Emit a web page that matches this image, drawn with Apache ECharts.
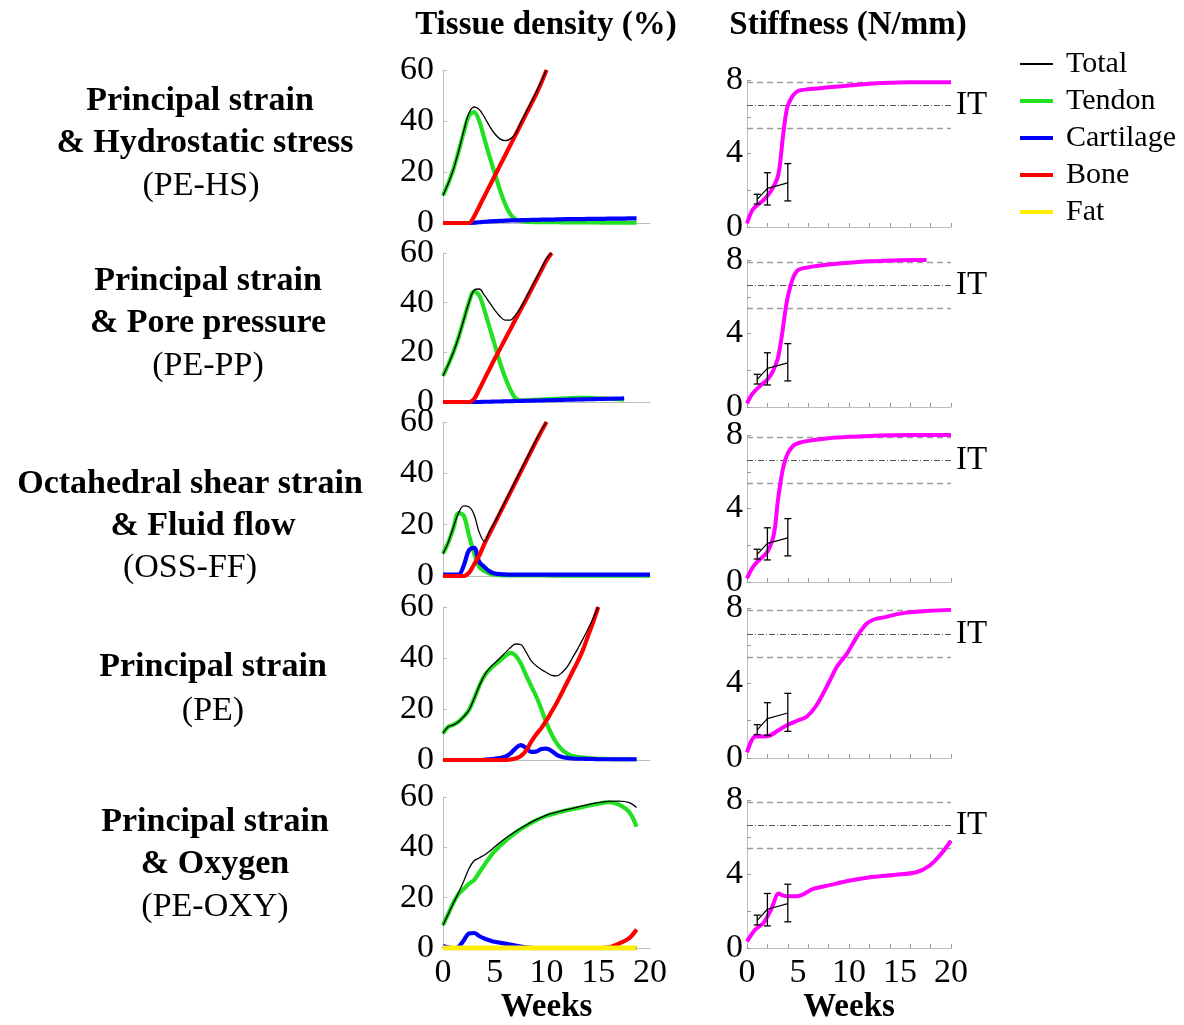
<!DOCTYPE html>
<html>
<head>
<meta charset="utf-8">
<script src="https://cdn.jsdelivr.net/npm/echarts@6/dist/echarts.min.js"></script>
<style>
  html, body { margin: 0; padding: 0; background: #fff; }
  #chart { width: 1184px; height: 1025px; }
</style>
</head>
<body>
<div id="chart"></div>
<script>
// ---- tissue density (%) per model ----
const hsWeeks = [0,0.5,1,1.5,2,2.5,3,3.5,4,4.5,5,5.5,6,6.5,7,7.5,8,8.5,9,9.5,10,11,12,13,14,15,16,17,18,18.7];
const hsTotal = [10.8,15.5,21,28,36,43,45.5,44.5,41.5,38,35,33,32.3,33,35,39.3,43.3,47.3,51.3,55.6,60,null,null,null,null,null,null,null,null,null];
const hsTendon = [10.8,15.5,21,28,35.5,42,43.5,40,33,26,19.5,13,7.5,3.5,1.5,0.8,0.5,0.4,0.3,0.3,0.3,0.3,0.2,0.2,0.2,0.2,0.1,0.1,0.1,0.1];
const hsCartilage = [0,0,0,0,0,0,0.1,0.3,0.5,0.6,0.7,0.8,0.9,1,1,1.1,1.1,1.2,1.2,1.3,1.3,1.4,1.5,1.5,1.6,1.6,1.7,1.7,1.8,1.8];
const hsBone = [0,0,0,0,0,0,2.5,6.5,10.5,14.5,18.5,22.5,26.5,30.5,34.5,38.5,42.5,46.5,50.5,55,60,null,null,null,null,null,null,null,null,null];

const ppWeeks = [0,0.5,1,1.5,2,2.5,3,3.5,4,4.5,5,5.5,6,6.5,7,7.5,8,8.5,9,9.5,10,10.5,11,12,13,14,15,16,17,17.5];
const ppTotal = [10.5,15,20,26,33,40,45,45.5,43,40,37,34.5,33,33,35,38,41.8,45.8,49.8,53.8,57.8,60,null,null,null,null,null,null,null,null];
const ppTendon = [10.5,15,20,26,33,40,44.5,43,37,30,23,16,10,5,1.5,0.7,0.7,0.8,0.9,1,1.1,1.2,1.3,1.5,1.7,1.7,1.5,1.3,1.1,1];
const ppCartilage = [0,0,0,0,0,0,0,0,0.1,0.1,0.2,0.2,0.3,0.3,0.4,0.4,0.5,0.5,0.6,0.6,0.7,0.7,0.8,0.9,1,1.1,1.2,1.3,1.4,1.5];
const ppBone = [0,0,0,0,0,0,1.2,5,9.2,13.3,17.4,21.3,25.3,29.2,33.2,37.1,41,45,49,53,57,60,null,null,null,null,null,null,null,null];

const ffWeeks = [0,0.5,1,1.5,2,2.5,3,3.5,4,4.5,5,5.5,6,6.5,7,7.5,8,8.5,9,9.5,10,11,12,13,14,15,16,17,18,19,20];
const ffTotal = [8.7,13,19,24.5,27.3,27,24,17,13.5,17.5,21,25,29,33,37,41,45,49,53,56.8,60,null,null,null,null,null,null,null,null,null,null];
const ffTendon = [8.7,13,18.5,24.5,23.5,16,9,3.5,2,1,0.5,0.3,0.2,0.2,0.2,0.2,0.2,0.2,0.2,0.2,0.2,0.1,0.1,0.1,0.1,0.1,0.1,0.1,0.1,0.1,0.1];
const ffCartilage = [0.5,0.5,0.5,0.5,4,10,11,5.5,3.5,1.8,1,0.7,0.6,0.5,0.5,0.5,0.5,0.5,0.5,0.5,0.5,0.5,0.5,0.5,0.5,0.5,0.5,0.5,0.5,0.5,0.5];
const ffBone = [0,0,0,0,0,1.2,4.5,8,12.5,16.5,20.5,24.5,28.5,32.5,36.5,40.5,44.5,48.5,52.5,56.3,60,null,null,null,null,null,null,null,null,null,null];

const peWeeks = [0,0.5,1,1.5,2,2.5,3,3.5,4,4.5,5,5.5,6,6.5,7,7.5,8,8.5,9,9.5,10,10.5,11,11.5,12,12.5,13,13.5,14,14.5,15,16,17,18,18.7];
const peTotal = [10.4,13,13.8,15,17,19.5,24,29,33.2,36,38,40,42,44,45.5,45.3,42.5,39,37,35.5,34.3,33.2,33,34.3,36.5,40,43.5,47.3,51.3,55.5,60,null,null,null,null];
const peTendon = [10.4,13,13.8,15,17,19.5,24,29,33,35.5,37.3,39,40.7,42,41,38,33.5,29.2,25,20,14.5,10,6.5,4,2.5,1.6,1.2,0.9,0.7,0.6,0.5,0.4,0.3,0.3,0.3];
const peCartilage = [0,0,0,0,0,0,0,0,0.1,0.3,0.5,0.8,1.3,2.5,4.5,5.8,4.8,3.2,3.3,4.3,4.5,3.5,2,1.2,0.8,0.6,0.5,0.5,0.4,0.4,0.3,0.3,0.3,0.3,0.3];
const peBone = [0,0,0,0,0,0,0,0,0,0,0,0,0,0.2,0.6,1.5,3.5,7,10,12.5,15.5,19,22.5,26.5,30.5,34.5,38.5,43,48.5,54,60,null,null,null,null];

const oxWeeks = [0,0.5,1,1.5,2,2.5,3,3.5,4,4.5,5,6,7,8,9,10,11,12,13,14,15,16,17,18,18.7];
const oxTotal = [9.1,13.5,17.8,22,26.5,31.5,34.7,35.8,37,38.5,40.2,43.5,46.3,48.8,51,52.8,54,55,56,57,57.8,58.3,58.4,57.8,55.8];
const oxTendon = [9.1,13.5,18,21.5,23.5,25.5,27,30,33,36,38.5,42.5,45.8,48.5,50.7,52.5,53.7,54.8,55.6,56.5,57.3,58,57,54,48.2];
const oxCartilage = [0.8,0.3,0,0.5,3,5.8,6,4.8,3.8,3.1,2.5,1.8,1,0.3,0,0,0,0,0,0,0,0,0,0,0];
const oxBone = [0,0,0,0,0,0,0,0,0,0,0,0,0,0,0,0,0,0,0,0,0,0.3,1.8,4,7.4];
const oxFat = [0,0,0,0,0,0,0,0,0,0,0,0,0,0,0,0,0,0,0,0,0,0,0,0,0];

// ---- stiffness (N/mm) per model ----
const hsStiffWeeks = [0,0.5,1,1.5,2,2.5,3,3.25,3.5,3.75,4,4.5,5,6,8,10,12,14,16,18,20];
const hsStiff = [0.2,0.9,1.2,1.4,1.7,2.1,2.7,3.5,4.8,5.9,6.6,7.15,7.4,7.5,7.6,7.7,7.8,7.85,7.88,7.88,7.88];
const ppStiffWeeks = [0,0.5,1,1.5,2,2.5,3,3.25,3.5,3.75,4,4.5,5,6,8,10,12,14,16,17.6];
const ppStiff = [0.2,0.7,1.0,1.25,1.5,1.9,2.6,3.3,4.2,5.2,6.0,7.0,7.45,7.6,7.75,7.85,7.93,7.97,8.0,8.0];
const ffStiffWeeks = [0,0.5,1,1.5,2,2.5,2.75,3,3.25,3.5,3.75,4,4.5,5,6,8,10,12,14,16,18,20];
const ffStiff = [0.2,0.75,1.1,1.35,1.65,2.3,3.0,4.3,5.3,6.1,6.65,7.0,7.4,7.55,7.68,7.82,7.9,7.95,7.98,8.0,8.0,8.0];
const peStiffWeeks = [0,0.8,1.5,2.25,3,4,5,5.85,6.8,8,8.8,9.8,10.75,11.7,12.5,13.4,15,16,18,20];
const peStiff = [0.3,1.15,1.15,1.2,1.45,1.77,2.0,2.2,2.8,4.0,4.85,5.57,6.45,7.15,7.4,7.5,7.7,7.77,7.85,7.9];
const oxStiffWeeks = [0,0.8,1.6,2.4,3.1,3.5,3.9,4.9,6.5,8.1,10.1,12.4,14.6,16.6,17.9,18.9,20];
const oxStiff = [0.36,1.0,1.35,2.14,2.95,2.85,2.8,2.8,3.2,3.4,3.65,3.85,3.96,4.1,4.46,5.0,5.8];

// experimental stiffness (mean with range)
const expWeeks = [1, 2, 4];
const expMean = [1.5, 2.1, 2.4];
const expLow = [1.25, 1.2, 1.42];
const expHigh = [1.78, 2.95, 3.45];

// intact tendon stiffness band
const itUpper = 7.88;
const itMean = 6.62;
const itLower = 5.38;

const densityTicks = [0, 20, 40, 60];
const weekTicks = [0, 5, 10, 15, 20];

const rowTitles = [
  [["Principal strain", 200, 101, true], ["& Hydrostatic stress", 205, 143, true], ["(PE-HS)", 201, 186, false]],
  [["Principal strain", 208, 281, true], ["& Pore pressure", 208, 323, true], ["(PE-PP)", 208, 366, false]],
  [["Octahedral shear strain", 190, 484, true], ["& Fluid flow", 203, 526, true], ["(OSS-FF)", 190, 568, false]],
  [["Principal strain", 213, 667, true], ["(PE)", 213, 711, false]],
  [["Principal strain", 215, 822, true], ["& Oxygen", 215, 864, true], ["(PE-OXY)", 215, 907, false]]
];

const SERIF = '"Liberation Serif", "DejaVu Serif", serif';
const COLORS = { Total: "#000000", Tendon: "#22e022", Cartilage: "#0000ff", Bone: "#ff0000", Fat: "#ffee00" };

const density = [
  { weeks: hsWeeks, Total: hsTotal, Tendon: hsTendon, Cartilage: hsCartilage, Bone: hsBone },
  { weeks: ppWeeks, Total: ppTotal, Tendon: ppTendon, Cartilage: ppCartilage, Bone: ppBone },
  { weeks: ffWeeks, Total: ffTotal, Tendon: ffTendon, Cartilage: ffCartilage, Bone: ffBone },
  { weeks: peWeeks, Total: peTotal, Tendon: peTendon, Cartilage: peCartilage, Bone: peBone },
  { weeks: oxWeeks, Total: oxTotal, Tendon: oxTendon, Cartilage: oxCartilage, Bone: oxBone, Fat: oxFat }
];
const stiffness = [
  { weeks: hsStiffWeeks, values: hsStiff },
  { weeks: ppStiffWeeks, values: ppStiff },
  { weeks: ffStiffWeeks, values: ffStiff },
  { weeks: peStiffWeeks, values: peStiff },
  { weeks: oxStiffWeeks, values: oxStiff }
];

// layout (px)
const leftTops = [70, 253, 422, 607, 797];
const leftHeights = [153, 149, 154, 153, 153];
const rightTops = [80, 260, 435, 608, 800];
const rightHeights = [147, 147, 147, 150, 150];

const zip = (xs, ys) => xs.map((x, i) => [x, ys[i]]);

const chart = echarts.init(document.getElementById("chart"));

const grids = [], xAxes = [], yAxes = [], series = [];
const axisGray = "#bdbdbd";

for (let i = 0; i < 5; i++) {
  const last = i === 4;
  // left: tissue density
  grids.push({ left: 443, width: 207, top: leftTops[i], height: leftHeights[i] });
  xAxes.push({
    gridIndex: 2 * i, type: "value", min: 0, max: 20, interval: 5,
    axisLine: { show: true, lineStyle: { color: axisGray, width: 1 } },
    axisTick: { show: false },
    splitLine: { show: false },
    axisLabel: { show: last, fontSize: 34, fontFamily: SERIF, color: "#000", margin: 8 },
    name: last ? "Weeks" : "", nameLocation: "middle", nameGap: 40,
    nameTextStyle: { fontSize: 33, fontWeight: "bold", fontFamily: SERIF, color: "#000" }
  });
  yAxes.push({
    gridIndex: 2 * i, type: "value", min: 0, max: 60, interval: 20,
    axisLine: { show: true, lineStyle: { color: axisGray, width: 1 } },
    axisTick: { show: true, inside: true, length: 4, lineStyle: { color: axisGray } },
    splitLine: { show: false },
    axisLabel: { fontSize: 34, fontFamily: SERIF, color: "#000", margin: 9,
      customValues: densityTicks }
  });
  // right: stiffness
  grids.push({ left: 747, width: 204, top: rightTops[i], height: rightHeights[i] });
  xAxes.push({
    gridIndex: 2 * i + 1, type: "value", min: 0, max: 20, interval: 2,
    axisLine: { show: true, lineStyle: { color: axisGray, width: 1 } },
    axisTick: { show: true, inside: true, length: 4, lineStyle: { color: "#999" } },
    splitLine: { show: false },
    axisLabel: { show: last, fontSize: 34, fontFamily: SERIF, color: "#000", margin: 8,
      customValues: weekTicks },
    name: last ? "Weeks" : "", nameLocation: "middle", nameGap: 40,
    nameTextStyle: { fontSize: 33, fontWeight: "bold", fontFamily: SERIF, color: "#000" }
  });
  yAxes.push({
    gridIndex: 2 * i + 1, type: "value", min: 0, max: 8, interval: 2,
    axisLine: { show: true, lineStyle: { color: axisGray, width: 1 } },
    axisTick: { show: true, inside: true, length: 4, lineStyle: { color: "#999" } },
    splitLine: { show: false },
    axisLabel: { fontSize: 34, fontFamily: SERIF, color: "#000", margin: 4,
      formatter: v => (v % 4 === 0 ? String(v) : "") }
  });

  // density lines, drawn tendon first and total on top
  const d = density[i];
  const order = ["Tendon", "Cartilage", "Bone", "Fat", "Total"];
  order.forEach(name => {
    if (!d[name]) return;
    const thin = name === "Total";
    series.push({
      name, type: "line", xAxisIndex: 2 * i, yAxisIndex: 2 * i,
      data: zip(d.weeks, d[name]),
      smooth: 0.35, showSymbol: false, silent: true,
      itemStyle: { color: COLORS[name] },
      lineStyle: { color: COLORS[name], width: thin ? 1.3 : (name === "Fat" ? 5 : 4.2) }
    });
  });

  // stiffness curve with intact-tendon reference lines underneath
  const s = stiffness[i];
  series.push({
    name: "Stiffness", type: "line", xAxisIndex: 2 * i + 1, yAxisIndex: 2 * i + 1,
    data: zip(s.weeks, s.values),
    smooth: 0.3, showSymbol: false, silent: true,
    lineStyle: { color: "#ff00ff", width: 4 }, itemStyle: { color: "#ff00ff" },
    markLine: {
      z: 1, silent: true, symbol: "none", animation: false,
      label: { show: false },
      data: [
        { yAxis: itUpper, lineStyle: { color: "#9a9a9a", type: [6, 4], width: 1.3 } },
        { yAxis: itMean, lineStyle: { color: "#555", type: [6, 2, 1, 2], width: 1.1 },
          label: { show: true, position: "end", distance: 5, formatter: "IT",
            fontSize: 33, fontFamily: SERIF, color: "#000" } },
        { yAxis: itLower, lineStyle: { color: "#9a9a9a", type: [6, 4], width: 1.3 } }
      ]
    }
  });
  // experimental means and ranges
  series.push({
    name: "Experiment", type: "line", xAxisIndex: 2 * i + 1, yAxisIndex: 2 * i + 1,
    data: zip(expWeeks, expMean), smooth: false, showSymbol: false, silent: true, z: 4,
    lineStyle: { color: "#000", width: 1.2 }
  });
  series.push({
    name: "Range", type: "custom", xAxisIndex: 2 * i + 1, yAxisIndex: 2 * i + 1, z: 4, silent: true,
    data: expWeeks.map((w, k) => [w, expLow[k], expHigh[k]]),
    encode: { x: 0, y: [1, 2] },
    renderItem: (params, api) => {
      const lo = api.coord([api.value(0), api.value(1)]);
      const hi = api.coord([api.value(0), api.value(2)]);
      const c = 3.5;
      const st = { stroke: "#000", lineWidth: 1.3 };
      return {
        type: "group",
        children: [
          { type: "line", shape: { x1: lo[0], y1: lo[1], x2: hi[0], y2: hi[1] }, style: st },
          { type: "line", shape: { x1: hi[0] - c, y1: hi[1], x2: hi[0] + c, y2: hi[1] }, style: st },
          { type: "line", shape: { x1: lo[0] - c, y1: lo[1], x2: lo[0] + c, y2: lo[1] }, style: st }
        ]
      };
    }
  });
}

// headers and row titles
const graphic = [
  { type: "text", x: 546, y: 25, style: { text: "Tissue density (%)", fontSize: 33, fontWeight: "bold",
    fontFamily: SERIF, fill: "#000", align: "center", verticalAlign: "middle" } },
  { type: "text", x: 848, y: 25, style: { text: "Stiffness (N/mm)", fontSize: 33, fontWeight: "bold",
    fontFamily: SERIF, fill: "#000", align: "center", verticalAlign: "middle" } }
];
rowTitles.forEach(lines => lines.forEach(([text, x, y, bold]) => {
  graphic.push({ type: "text", x, y, style: { text, fontSize: 34, fontWeight: bold ? "bold" : "normal",
    fontFamily: SERIF, fill: "#000", align: "center", verticalAlign: "middle" } });
}));

const option = {
  animation: false,
  backgroundColor: "#fff",
  textStyle: { fontFamily: SERIF },
  legend: {
    orient: "vertical", left: 1015, top: 44, selectedMode: false,
    itemWidth: 33, itemHeight: 4, itemGap: 7,
    textStyle: { fontSize: 30, fontFamily: SERIF, color: "#000", lineHeight: 30, padding: [0, 0, 0, 8] },
    data: ["Total", "Tendon", "Cartilage", "Bone", "Fat"].map(n => ({
      name: n, icon: n === "Total" ? "path://M0,0H33V2H0Z" : "rect", itemStyle: { color: COLORS[n] }
    }))
  },
  grid: grids,
  xAxis: xAxes,
  yAxis: yAxes,
  series,
  graphic
};

chart.setOption(option);
</script>
</body>
</html>
